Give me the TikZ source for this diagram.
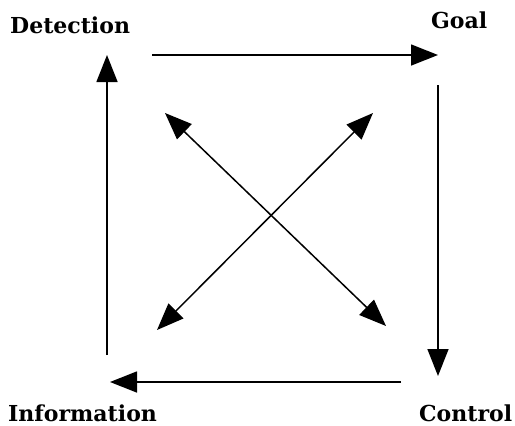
\documentclass[tikz,border=0pt]{standalone}
\usepackage{fontspec}
\setmainfont{DejaVu Serif}
\usetikzlibrary{arrows.meta}
\begin{document}
\begin{tikzpicture}[x=1pt,y=-1pt,
  lbl/.style={anchor=base west,inner sep=0pt,font=\fontsize{22}{26}\selectfont\bfseries},
  arr/.style={line width=1.5pt,-{Triangle[length=27pt,width=21pt]}},
  darr/.style={line width=1.5pt,{Triangle[length=27pt,width=21pt]}-{Triangle[length=27pt,width=21pt]}}]
\useasboundingbox (0,0) rectangle (515,426);
\node[lbl] (det) at (10,33) {Detection};
\node[lbl] (goal) at (431,28) {Goal};
\node[lbl] (inf) at (8,421) {Information};
\node[lbl] (ctl) at (419,421) {Control};
\coordinate (t1) at (152,55);
\coordinate (t2) at (438,55);
\coordinate (r1) at (438,85);
\coordinate (r2) at (438,376);
\coordinate (b1) at (401,382);
\coordinate (b2) at (110,382);
\coordinate (l1) at (107,355);
\coordinate (l2) at (107,55);
\coordinate (d1) at (165,113);
\coordinate (d2) at (386,326);
\coordinate (e1) at (373,113);
\coordinate (e2) at (157,330);
\draw[arr] (t1) -- (t2);
\draw[arr] (r1) -- (r2);
\draw[arr] (b1) -- (b2);
\draw[arr] (l1) -- (l2);
\draw[darr] (d1) -- (d2);
\draw[darr] (e1) -- (e2);
\end{tikzpicture}
\end{document}
